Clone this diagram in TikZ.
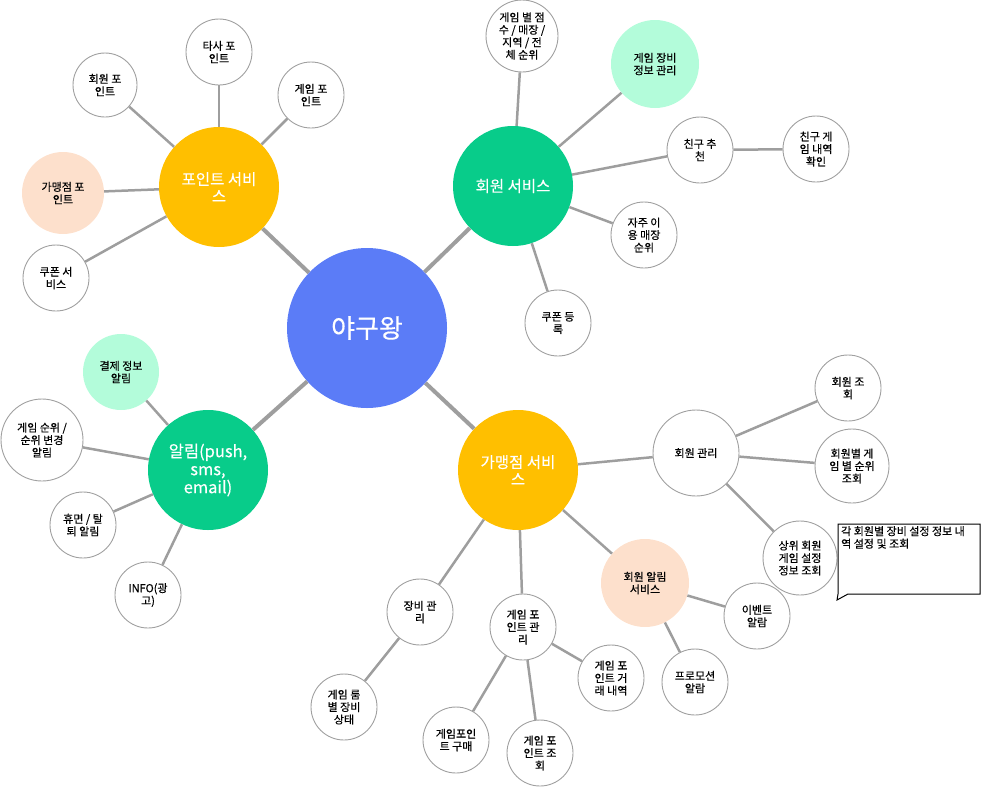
\documentclass[tikz,border=0pt]{standalone}
\usepackage{fontspec}
\setmainfont{Noto Sans CJK KR}[BoldFont=Noto Sans CJK KR, BoldFeatures={FakeBold=0.35}]
\definecolor{mainblue}{HTML}{5B7CF7}
\definecolor{ygold}{HTML}{FFBF00}
\definecolor{mgreen}{HTML}{08CC8A}
\definecolor{peach}{HTML}{FDE0CC}
\definecolor{lgreen}{HTML}{B3FCDA}
\definecolor{edgegray}{HTML}{9E9E9E}
\definecolor{bordergray}{HTML}{A0A0A0}
\tikzset{
  leaf/.style={circle, draw=bordergray, line width=0.9pt, fill=white, minimum size=66pt, inner sep=0pt, align=center, font=\fontsize{11}{12.5}\selectfont\bfseries},
  softleaf/.style={circle, draw=none, inner sep=0pt, align=center, font=\fontsize{11}{12.5}\selectfont\bfseries},
  cat/.style={circle, draw=none, minimum size=120pt, inner sep=0pt, align=center, text=white, font=\fontsize{15.5}{17}\selectfont\bfseries},
  link/.style={draw=edgegray, line width=2.5pt},
  biglink/.style={draw=edgegray, line width=4pt},
}
\begin{document}
\begin{tikzpicture}[x=1pt,y=-1pt]
\useasboundingbox (0,0) rectangle (981,787);
% main
\node[circle, fill=mainblue, minimum size=160pt, inner sep=0pt, text=white, font=\fontsize{26}{28}\selectfont\bfseries] (main) at (367,328) {야구왕};
% categories
\node[cat, fill=ygold] (ps) at (219,187) {포인트 서비\\스};
\node[cat, fill=mgreen] (ms) at (513,186) {회원 서비스};
\node[cat, fill=mgreen, font=\fontsize{16.5}{18}\selectfont\bfseries] (al) at (208,470) {알림(push,\\sms,\\email)};
\node[cat, fill=ygold] (fs) at (518,470) {가맹점 서비\\스};
% point service
\node[leaf, minimum size=64pt] (ps1) at (105,85) {회원 포\\인트};
\node[leaf] (ps2) at (219,52) {타사 포\\인트};
\node[leaf] (ps3) at (311,95) {게임 포\\인트};
\node[softleaf, fill=peach, minimum size=82pt] (ps4) at (63,193) {가맹점 포\\인트};
\node[leaf] (ps5) at (56,278) {쿠폰 서\\비스};
% member service
\node[leaf, minimum size=72pt] (ms1) at (522,36) {게임 별 점\\수 / 매장 /\\지역 / 전\\체 순위};
\node[softleaf, fill=lgreen, minimum size=88pt] (ms2) at (655,64) {게임 장비\\정보 관리};
\node[leaf] (ms3) at (700,150) {친구 추\\천};
\node[leaf] (ms4) at (816,149) {친구 게\\임 내역\\확인};
\node[leaf] (ms5) at (644,235) {자주 이\\용 매장\\순위};
\node[leaf] (ms6) at (558,323) {쿠폰 등\\록};
% alarm
\node[softleaf, fill=lgreen, minimum size=76pt] (al1) at (121,372) {결제 정보\\알림};
\node[leaf, minimum size=82pt] (al2) at (42,440) {게임 순위 /\\순위 변경\\알림};
\node[leaf] (al3) at (83,525) {휴면 / 탈\\퇴 알림};
\node[leaf] (al4) at (148,595) {INFO(광\\고)};
% franchise service
\node[leaf, minimum size=86pt] (fm) at (696,453) {회원 관리};
\node[leaf] (fm1) at (848,388) {회원 조\\회};
\node[leaf, minimum size=74pt] (fm2) at (852,466) {회원별 게\\임 별 순위\\조회};
\node[leaf, minimum size=74pt] (fm3) at (800,558) {상위 회원\\게임 설정\\정보 조회};
\node[softleaf, fill=peach, minimum size=88pt] (fa) at (645,583) {회원 알림\\서비스};
\node[leaf] (fa1) at (757,616) {이벤트\\알람};
\node[leaf] (fa2) at (695,682) {프로모션\\알람};
\node[leaf] (fe) at (420,612) {장비 관\\리};
\node[leaf] (fe1) at (344,707) {게임 룸\\별 장비\\상태};
\node[leaf] (fg) at (523,627) {게임 포\\인트 관\\리};
\node[leaf] (fg1) at (456,740) {게임포인\\트 구매};
\node[leaf] (fg2) at (540,753) {게임 포\\인트 조\\회};
\node[leaf] (fg3) at (611,678) {게임 포\\인트 거\\래 내역};
% callout
\coordinate (cbTL) at (838,524);
\coordinate (cbBR) at (980,594);
\coordinate (cbTip) at (837,600);
\draw[black, line width=1pt, fill=white] (848,594) -- (cbBR) -- (980,524) -- (cbTL) -- (838,594) -- (cbTip) -- cycle;
\node[anchor=north west, inner sep=0pt, align=left, font=\fontsize{11}{12.5}\selectfont\bfseries] (cbtext) at (841,526) {각 회원별 장비 설정 정보 내\\역 설정 및 조회};
% links
\draw[biglink] (main) -- (ps);
\draw[biglink] (main) -- (ms);
\draw[biglink] (main) -- (al);
\draw[biglink] (main) -- (fs);
\foreach \c in {ps1,ps2,ps3,ps4,ps5} \draw[link] (ps) -- (\c);
\foreach \c in {ms1,ms2,ms3,ms5,ms6} \draw[link] (ms) -- (\c);
\draw[link] (ms3) -- (ms4);
\foreach \c in {al1,al2,al3,al4} \draw[link] (al) -- (\c);
\foreach \c in {fm,fa,fe,fg} \draw[link] (fs) -- (\c);
\foreach \c in {fm1,fm2,fm3} \draw[link] (fm) -- (\c);
\foreach \c in {fa1,fa2} \draw[link] (fa) -- (\c);
\draw[link] (fe) -- (fe1);
\foreach \c in {fg1,fg2,fg3} \draw[link] (fg) -- (\c);
\end{tikzpicture}
\end{document}
